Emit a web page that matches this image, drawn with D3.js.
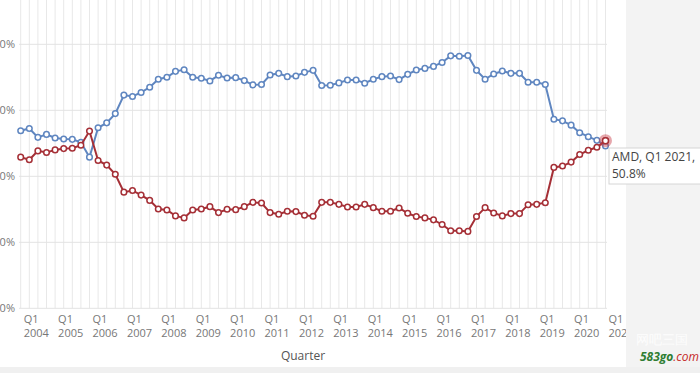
<!DOCTYPE html>
<html>
<head>
<meta charset="utf-8">
<script src="https://cdn.jsdelivr.net/npm/d3@7"></script>
<style>
  body { margin: 0; background: #fff; }
  svg { display: block; font-family: "Open Sans", "Noto Sans", sans-serif; }
</style>
</head>
<body>
<div id="chart"></div>
<script>
// quarterly CPU market share, Intel vs AMD
const years = [2004, 2005, 2006, 2007, 2008, 2009, 2010, 2011, 2012, 2013, 2014, 2015, 2016, 2017, 2018, 2019, 2020, 2021];
const quarterNames = ["Q1", "Q2", "Q3", "Q4"];

const intelShare = [
  53.8, 54.5, 51.8, 52.7, 51.6, 51.3, 51.2, 50.3, 45.8, 54.7,
  56.2, 59.0, 64.6, 64.2, 65.4, 67.0, 69.4, 70.0, 71.8, 72.3,
  70.0, 69.7, 68.9, 70.6, 69.8, 69.9, 69.0, 67.7, 67.8, 70.7,
  71.2, 70.2, 70.4, 71.5, 72.1, 67.5, 67.6, 68.3, 69.2, 69.2,
  68.2, 69.4, 70.2, 70.4, 69.3, 70.9, 72.2, 72.7, 73.3, 74.5,
  76.5, 76.4, 76.6, 72.1, 69.4, 71.0, 71.9, 71.2, 71.2, 68.5,
  68.5, 67.8, 57.3, 56.8, 55.5, 53.2, 52.0, 50.9, 49.2
];
const amdShare = [
  45.8, 45.0, 47.7, 47.2, 48.0, 48.4, 48.5, 49.4, 53.7, 44.8,
  43.4, 40.6, 35.2, 35.7, 34.3, 32.7, 30.1, 29.8, 28.0, 27.4,
  29.8, 30.1, 30.8, 29.0, 30.0, 29.9, 30.8, 32.1, 31.9, 29.0,
  28.5, 29.4, 29.3, 28.2, 27.9, 32.1, 32.1, 31.5, 30.7, 30.7,
  31.5, 30.5, 29.4, 29.4, 30.4, 28.8, 27.8, 27.4, 26.8, 25.4,
  23.5, 23.5, 23.3, 27.8, 30.5, 28.9, 28.0, 28.7, 28.7, 31.4,
  31.5, 32.0, 42.7, 43.1, 44.3, 46.6, 47.9, 48.8, 50.8
];
const yTicks = [0, 20, 40, 60, 80];

// categories: Q1 2004 .. Q1 2021
let quarters = years.flatMap(y => quarterNames.map(q => q + " " + y));
quarters = quarters.slice(0, intelShare.length);

const width = 700, height = 373;

const svg = d3.select("#chart").append("svg")
    .attr("width", width)
    .attr("height", height);

const x = d3.scalePoint()
    .domain(quarters)
    .range([20.7, 605.5]);

const y = d3.scaleLinear()
    .domain([0, 80])
    .range([308.3, 44.3]);

// vertical grid, one per quarter
svg.append("g")
    .selectAll("line")
    .data(quarters)
    .enter().append("line")
    .attr("x1", d => x(d)).attr("x2", d => x(d))
    .attr("y1", 0).attr("y2", y(0))
    .attr("stroke", "#e8e8e8")
    .attr("stroke-width", 1);

// horizontal grid
svg.append("g")
    .selectAll("line")
    .data(yTicks)
    .enter().append("line")
    .attr("x1", 19).attr("x2", 607)
    .attr("y1", d => y(d)).attr("y2", d => y(d))
    .attr("stroke", "#e3e3e3")
    .attr("stroke-width", 1);

// y labels
svg.append("g")
    .selectAll("text")
    .data(yTicks)
    .enter().append("text")
    .attr("x", 15)
    .attr("y", d => y(d) + 4)
    .attr("text-anchor", "end")
    .attr("font-size", 11)
    .attr("fill", "#777")
    .text(d => d + "%");

// x labels, only every Q1
const xLabels = svg.append("g")
    .selectAll("text")
    .data(quarters.filter(d => d.startsWith("Q1")))
    .enter().append("text")
    .attr("x", d => x(d) + 3)
    .attr("font-size", 11)
    .attr("fill", "#777");
xLabels.append("tspan").attr("x", d => x(d) + 3).attr("y", 323).text(d => d.split(" ")[0]);
xLabels.append("tspan").attr("x", d => x(d) + 3).attr("y", 337).text(d => d.split(" ")[1]);

svg.append("text")
    .attr("x", 303)
    .attr("y", 360)
    .attr("text-anchor", "middle")
    .attr("font-size", 12)
    .attr("fill", "#555")
    .text("Quarter");

const series = [
  {name: "Intel", values: intelShare, color: "#5f86c0"},
  {name: "AMD", values: amdShare, color: "#a52f36"}
];

const line = d3.line()
    .x((d, i) => x(quarters[i]))
    .y(d => y(d));

series.forEach(s => {
  svg.append("path")
      .datum(s.values)
      .attr("fill", "none")
      .attr("stroke", s.color)
      .attr("stroke-width", 2)
      .attr("d", line);

  svg.append("g")
      .selectAll("circle")
      .data(s.values)
      .enter().append("circle")
      .attr("cx", (d, i) => x(quarters[i]))
      .attr("cy", d => y(d))
      .attr("r", 2.8)
      .attr("fill", "#fff")
      .attr("stroke", s.color)
      .attr("stroke-width", 1.5);
});

// highlighted point (hover)
const last = amdShare.length - 1;
svg.append("circle")
    .attr("cx", x(quarters[last]))
    .attr("cy", y(amdShare[last]))
    .attr("r", 6.5)
    .attr("fill", "rgba(200,60,70,0.45)");
svg.append("circle")
    .attr("cx", x(quarters[last]))
    .attr("cy", y(amdShare[last]))
    .attr("r", 3)
    .attr("fill", "#fff")
    .attr("stroke", "#a52f36")
    .attr("stroke-width", 1.5);

// grey side panel and bottom strip
svg.append("rect")
    .attr("x", 626).attr("y", 0)
    .attr("width", width - 626).attr("height", height)
    .attr("fill", "#f3f3f3");
svg.append("rect")
    .attr("x", 0).attr("y", 367)
    .attr("width", width).attr("height", height - 367)
    .attr("fill", "#f0f0f0");

// tooltip
const tip = svg.append("g").attr("transform", "translate(609,148)");
tip.append("rect")
    .attr("width", 92).attr("height", 36)
    .attr("fill", "#fff")
    .attr("stroke", "#d6d6d6");
tip.append("text")
    .attr("x", 3).attr("y", 13)
    .attr("font-size", 12)
    .attr("fill", "#444")
    .text("AMD, " + quarters[last] + ",");
tip.append("text")
    .attr("x", 3).attr("y", 30)
    .attr("font-size", 12)
    .attr("fill", "#444")
    .text(amdShare[last] + "%");

// watermark
svg.append("text")
    .attr("x", 636).attr("y", 344)
    .attr("font-size", 13)
    .attr("fill", "#fdfdfd")
    .text("网吧三国");
const wm = svg.append("text")
    .attr("x", 640).attr("y", 361)
    .attr("font-size", 12)
    .attr("font-style", "italic");
wm.append("tspan").attr("fill", "#2e7d32").attr("font-weight", "bold").text("583go");
wm.append("tspan").attr("fill", "#c62828").text(".com");
</script>
</body>
</html>
